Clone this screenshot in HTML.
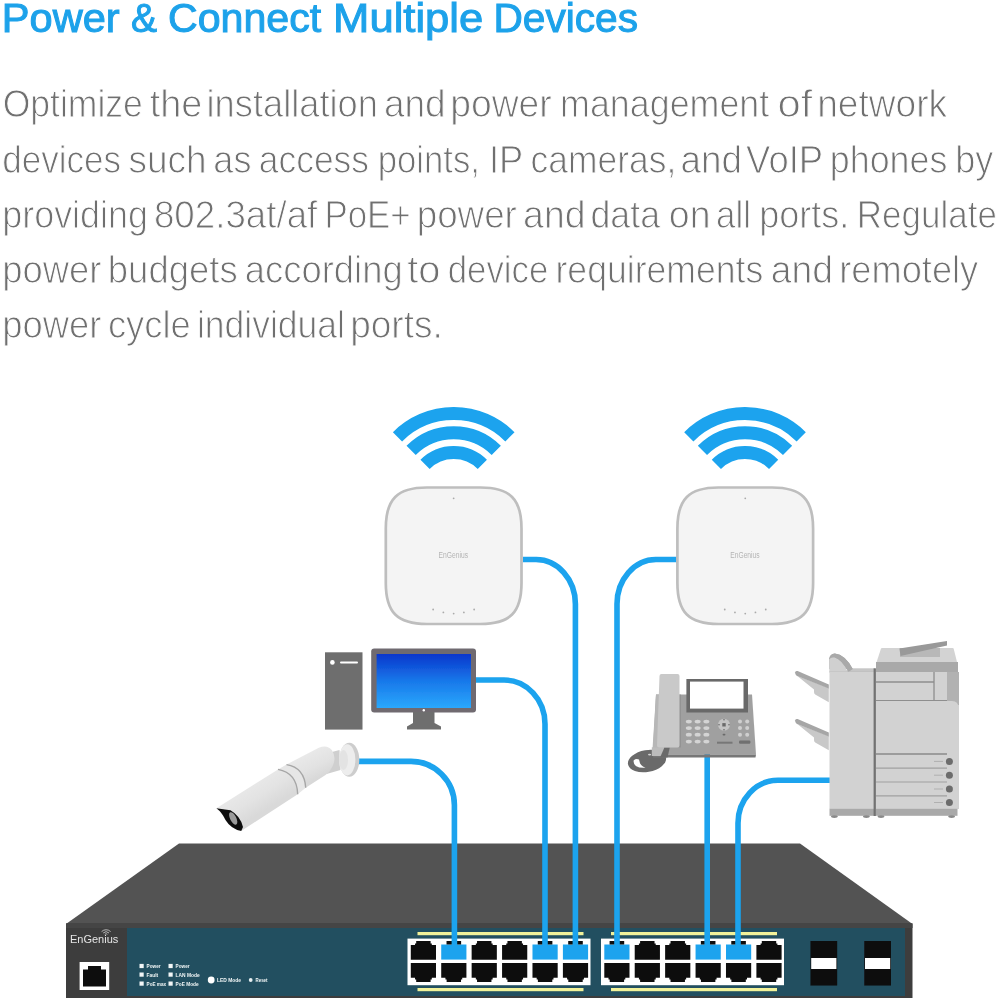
<!DOCTYPE html>
<html><head><meta charset="utf-8">
<style>
html,body{margin:0;padding:0;background:#fff;}
body{width:1000px;height:1000px;overflow:hidden;position:relative;font-family:"Liberation Sans",sans-serif;}
svg{position:absolute;left:0;top:0;display:block;}
text{font-family:"Liberation Sans",sans-serif;}
.h{font-weight:normal;font-size:39.8px;fill:#1ea2ea;stroke:#1ea2ea;stroke-width:1px;}
.b{font-size:39.2px;fill:#707070;stroke:#fff;stroke-width:1px;}
</style></head><body>
<svg width="1000" height="1000" viewBox="0 0 1000 1000">
<defs><filter id="soft" filterUnits="userSpaceOnUse" x="0" y="0" width="1000" height="1000"><feGaussianBlur stdDeviation="0.35"/></filter><filter id="soft2" filterUnits="userSpaceOnUse" x="0" y="0" width="1000" height="1000"><feGaussianBlur stdDeviation="0.45"/></filter></defs>
<g id="text" filter="url(#soft)">
<text class="h" transform="translate(1.87 32) scale(1.0436 1)">Power</text>
<text class="h" transform="translate(131.02 32) scale(0.9808 1)">&amp;</text>
<text class="h" transform="translate(167.97 32) scale(1.0338 1)">Connect</text>
<text class="h" transform="translate(333.12 32) scale(1.0947 1)">Multiple</text>
<text class="h" transform="translate(493.44 32) scale(1.0210 1)">Devices</text>
<text class="b" transform="translate(2.69 117) scale(0.9067 1)">Optimize</text>
<text class="b" transform="translate(149.73 117) scale(0.9667 1)">the</text>
<text class="b" transform="translate(206.52 117) scale(0.9257 1)">installation</text>
<text class="b" transform="translate(383.91 117) scale(0.9450 1)">and</text>
<text class="b" transform="translate(450.15 117) scale(0.9515 1)">power</text>
<text class="b" transform="translate(560.06 117) scale(0.9147 1)">management</text>
<text class="b" transform="translate(777.47 117) scale(1.0633 1)">of</text>
<text class="b" transform="translate(817.16 117) scale(0.9474 1)">network</text>
<text class="b" transform="translate(2.21 173) scale(0.8953 1)">devices</text>
<text class="b" transform="translate(128.51 173) scale(0.9436 1)">such</text>
<text class="b" transform="translate(213.36 173) scale(0.9189 1)">as</text>
<text class="b" transform="translate(258.79 173) scale(0.9034 1)">access</text>
<text class="b" transform="translate(377.74 173) scale(0.8852 1)">points,</text>
<text class="b" transform="translate(488.90 173) scale(0.9258 1)">IP</text>
<text class="b" transform="translate(530.59 173) scale(0.9039 1)">cameras,</text>
<text class="b" transform="translate(680.52 173) scale(0.9400 1)">and</text>
<text class="b" transform="translate(746.07 173) scale(0.9304 1)">VoIP</text>
<text class="b" transform="translate(829.75 173) scale(0.9153 1)">phones</text>
<text class="b" transform="translate(955.24 173) scale(0.9189 1)">by</text>
<text class="b" transform="translate(2.25 228) scale(0.9163 1)">providing</text>
<text class="b" transform="translate(153.93 228) scale(0.9372 1)">802.3at/af</text>
<text class="b" transform="translate(324.44 228) scale(0.8901 1)">PoE+</text>
<text class="b" transform="translate(416.68 228) scale(0.9388 1)">power</text>
<text class="b" transform="translate(523.09 228) scale(0.9550 1)">and</text>
<text class="b" transform="translate(590.48 228) scale(0.9122 1)">data</text>
<text class="b" transform="translate(668.79 228) scale(0.9564 1)">on</text>
<text class="b" transform="translate(716.12 228) scale(0.8912 1)">all</text>
<text class="b" transform="translate(759.24 228) scale(0.9187 1)">ports.</text>
<text class="b" transform="translate(856.83 228) scale(0.8927 1)">Regulate</text>
<text class="b" transform="translate(2.21 283) scale(0.9291 1)">power</text>
<text class="b" transform="translate(107.80 283) scale(0.9321 1)">budgets</text>
<text class="b" transform="translate(244.74 283) scale(0.9297 1)">according</text>
<text class="b" transform="translate(407.19 283) scale(1.0133 1)">to</text>
<text class="b" transform="translate(447.72 283) scale(0.8881 1)">device</text>
<text class="b" transform="translate(555.47 283) scale(0.9089 1)">requirements</text>
<text class="b" transform="translate(770.80 283) scale(0.9517 1)">and</text>
<text class="b" transform="translate(839.23 283) scale(0.9247 1)">remotely</text>
<text class="b" transform="translate(2.21 338) scale(0.9291 1)">power</text>
<text class="b" transform="translate(107.95 338) scale(0.9271 1)">cycle</text>
<text class="b" transform="translate(196.88 338) scale(0.9064 1)">individual</text>
<text class="b" transform="translate(350.16 338) scale(0.9451 1)">ports.</text>
</g>
<g id="diagram" filter="url(#soft2)">
<g id="switch">
<polygon points="179,843.6 800,843.6 912.5,924 66,924" fill="#525252"/>
<rect x="66" y="923.5" width="846.5" height="74.5" fill="#3c3c3c"/>
<rect x="66" y="923.5" width="846.5" height="4.5" fill="#444"/>
<rect x="127" y="928" width="778" height="68" fill="#235060"/>
<text x="70" y="942.8" font-size="11.4" fill="#e6e6e6" textLength="48.3" lengthAdjust="spacingAndGlyphs">EnGenius</text>
<path d="M101.6 931.6 a6.4 6.4 0 0 1 9 0 M103.2 933 a4.2 4.2 0 0 1 5.8 0 M104.8 934.3 a2 2 0 0 1 2.6 0" stroke="#d8d8d8" stroke-width="0.8" fill="none"/>
<rect x="79.6" y="962" width="29.6" height="28" fill="#fff"/>
<path d="M83 969.5 h5 v-3.5 h13 v3.5 h5 v17 h-23z" fill="#0c0c0c"/>
<rect x="139.5" y="963.9" width="4.2" height="4.2" fill="#f2f6f7"/>
<text x="146.6" y="967.9" font-family="Liberation Sans, sans-serif" font-weight="bold" font-size="5.6" fill="#f0f5f6" textLength="14" lengthAdjust="spacingAndGlyphs">Power</text>
<rect x="139.5" y="972.5" width="4.2" height="4.2" fill="#f2f6f7"/>
<text x="146.6" y="976.5" font-family="Liberation Sans, sans-serif" font-weight="bold" font-size="5.6" fill="#f0f5f6" textLength="11.5" lengthAdjust="spacingAndGlyphs">Fault</text>
<rect x="139.5" y="981.5" width="4.2" height="4.2" fill="#f2f6f7"/>
<text x="146.6" y="985.5" font-family="Liberation Sans, sans-serif" font-weight="bold" font-size="5.6" fill="#f0f5f6" textLength="19.5" lengthAdjust="spacingAndGlyphs">PoE max</text>
<rect x="168.5" y="963.9" width="4.2" height="4.2" fill="#f2f6f7"/>
<text x="175.6" y="967.9" font-family="Liberation Sans, sans-serif" font-weight="bold" font-size="5.6" fill="#f0f5f6" textLength="14" lengthAdjust="spacingAndGlyphs">Power</text>
<rect x="168.5" y="972.5" width="4.2" height="4.2" fill="#f2f6f7"/>
<text x="175.6" y="976.5" font-family="Liberation Sans, sans-serif" font-weight="bold" font-size="5.6" fill="#f0f5f6" textLength="24" lengthAdjust="spacingAndGlyphs">LAN Mode</text>
<rect x="168.5" y="981.5" width="4.2" height="4.2" fill="#f2f6f7"/>
<text x="175.6" y="985.5" font-family="Liberation Sans, sans-serif" font-weight="bold" font-size="5.6" fill="#f0f5f6" textLength="23" lengthAdjust="spacingAndGlyphs">PoE Mode</text>
<circle cx="211.2" cy="980" r="3.4" fill="#fff"/>
<text x="217" y="982" font-family="Liberation Sans, sans-serif" font-weight="bold" font-size="5.6" fill="#f0f5f6" textLength="24" lengthAdjust="spacingAndGlyphs">LED Mode</text>
<circle cx="250.7" cy="980" r="1.9" fill="#e6eef0"/>
<text x="255.5" y="982" font-family="Liberation Sans, sans-serif" font-weight="bold" font-size="5.6" fill="#f0f5f6" textLength="12" lengthAdjust="spacingAndGlyphs">Reset</text>
<rect x="417.5" y="932" width="166" height="3.2" fill="#f2f29a"/>
<rect x="417.5" y="988" width="166" height="3.2" fill="#f2f29a"/>
<rect x="407.5" y="938.6" width="183" height="46.6" fill="#fff"/>
<path d="M410.8 945 h4.2 v-1.6 h1.2 v-2.4 h14.399999999999999 v2.4 h1.2 v1.6 h4.2 v14.8 h-25.2z" fill="#0c0c0c"/>
<path d="M410.8 963 h25.2 v14.8 h-4.2 v1.6 h-1.2 v2.6 h-14.399999999999999 v-2.6 h-1.2 v-1.6 h-4.2z" fill="#0c0c0c"/>
<path d="M441.22 944.5 h25.2 v15.1 h-25.2z" fill="#1aa3ee"/>
<path d="M446.52000000000004 944.5 v-3.5 h14.6 v3.5z" fill="#0c0c0c"/>
<path d="M441.22 963 h25.2 v14.8 h-4.2 v1.6 h-1.2 v2.6 h-14.399999999999999 v-2.6 h-1.2 v-1.6 h-4.2z" fill="#0c0c0c"/>
<path d="M471.64 945 h4.2 v-1.6 h1.2 v-2.4 h14.399999999999999 v2.4 h1.2 v1.6 h4.2 v14.8 h-25.2z" fill="#0c0c0c"/>
<path d="M471.64 963 h25.2 v14.8 h-4.2 v1.6 h-1.2 v2.6 h-14.399999999999999 v-2.6 h-1.2 v-1.6 h-4.2z" fill="#0c0c0c"/>
<path d="M502.06 945 h4.2 v-1.6 h1.2 v-2.4 h14.399999999999999 v2.4 h1.2 v1.6 h4.2 v14.8 h-25.2z" fill="#0c0c0c"/>
<path d="M502.06 963 h25.2 v14.8 h-4.2 v1.6 h-1.2 v2.6 h-14.399999999999999 v-2.6 h-1.2 v-1.6 h-4.2z" fill="#0c0c0c"/>
<path d="M532.48 944.5 h25.2 v15.1 h-25.2z" fill="#1aa3ee"/>
<path d="M537.78 944.5 v-3.5 h14.6 v3.5z" fill="#0c0c0c"/>
<path d="M532.48 963 h25.2 v14.8 h-4.2 v1.6 h-1.2 v2.6 h-14.399999999999999 v-2.6 h-1.2 v-1.6 h-4.2z" fill="#0c0c0c"/>
<path d="M562.9000000000001 944.5 h25.2 v15.1 h-25.2z" fill="#1aa3ee"/>
<path d="M568.2 944.5 v-3.5 h14.6 v3.5z" fill="#0c0c0c"/>
<path d="M562.9000000000001 963 h25.2 v14.8 h-4.2 v1.6 h-1.2 v2.6 h-14.399999999999999 v-2.6 h-1.2 v-1.6 h-4.2z" fill="#0c0c0c"/>
<rect x="611" y="932" width="166" height="3.2" fill="#f2f29a"/>
<rect x="611" y="988" width="166" height="3.2" fill="#f2f29a"/>
<rect x="601" y="938.6" width="183" height="46.6" fill="#fff"/>
<path d="M604.3 944.5 h25.2 v15.1 h-25.2z" fill="#1aa3ee"/>
<path d="M609.5999999999999 944.5 v-3.5 h14.6 v3.5z" fill="#0c0c0c"/>
<path d="M604.3 963 h25.2 v14.8 h-4.2 v1.6 h-1.2 v2.6 h-14.399999999999999 v-2.6 h-1.2 v-1.6 h-4.2z" fill="#0c0c0c"/>
<path d="M634.7199999999999 945 h4.2 v-1.6 h1.2 v-2.4 h14.399999999999999 v2.4 h1.2 v1.6 h4.2 v14.8 h-25.2z" fill="#0c0c0c"/>
<path d="M634.7199999999999 963 h25.2 v14.8 h-4.2 v1.6 h-1.2 v2.6 h-14.399999999999999 v-2.6 h-1.2 v-1.6 h-4.2z" fill="#0c0c0c"/>
<path d="M665.14 945 h4.2 v-1.6 h1.2 v-2.4 h14.399999999999999 v2.4 h1.2 v1.6 h4.2 v14.8 h-25.2z" fill="#0c0c0c"/>
<path d="M665.14 963 h25.2 v14.8 h-4.2 v1.6 h-1.2 v2.6 h-14.399999999999999 v-2.6 h-1.2 v-1.6 h-4.2z" fill="#0c0c0c"/>
<path d="M695.56 944.5 h25.2 v15.1 h-25.2z" fill="#1aa3ee"/>
<path d="M700.8599999999999 944.5 v-3.5 h14.6 v3.5z" fill="#0c0c0c"/>
<path d="M695.56 963 h25.2 v14.8 h-4.2 v1.6 h-1.2 v2.6 h-14.399999999999999 v-2.6 h-1.2 v-1.6 h-4.2z" fill="#0c0c0c"/>
<path d="M725.98 944.5 h25.2 v15.1 h-25.2z" fill="#1aa3ee"/>
<path d="M731.28 944.5 v-3.5 h14.6 v3.5z" fill="#0c0c0c"/>
<path d="M725.98 963 h25.2 v14.8 h-4.2 v1.6 h-1.2 v2.6 h-14.399999999999999 v-2.6 h-1.2 v-1.6 h-4.2z" fill="#0c0c0c"/>
<path d="M756.4 945 h4.2 v-1.6 h1.2 v-2.4 h14.399999999999999 v2.4 h1.2 v1.6 h4.2 v14.8 h-25.2z" fill="#0c0c0c"/>
<path d="M756.4 963 h25.2 v14.8 h-4.2 v1.6 h-1.2 v2.6 h-14.399999999999999 v-2.6 h-1.2 v-1.6 h-4.2z" fill="#0c0c0c"/>
<rect x="810.4" y="941" width="26.8" height="44.6" fill="#111"/>
<rect x="811.1999999999999" y="958" width="25.2" height="11" fill="#fff"/>
<rect x="864.2" y="941" width="26.8" height="44.6" fill="#111"/>
<rect x="865.0" y="958" width="25.2" height="11" fill="#fff"/>
</g>
<g id="cables">
<path d="M523 559.5 H536 A39.4 44.5 0 0 1 575.4 604 V946" fill="none" stroke="#1aa3ee" stroke-width="5.6"/>
<path d="M677 559.5 H656 A39 44.5 0 0 0 617 604 V946" fill="none" stroke="#1aa3ee" stroke-width="5.6"/>
<path d="M476 680 H504 A41 44 0 0 1 545 724 V946" fill="none" stroke="#1aa3ee" stroke-width="5.6"/>
<path d="M358 761.4 H411 A43.4 43.6 0 0 1 454.4 805 V946" fill="none" stroke="#1aa3ee" stroke-width="5.6"/>
<path d="M707.2 754 V946" fill="none" stroke="#1aa3ee" stroke-width="5.6"/>
<path d="M830 780.3 H778 A40 42.7 0 0 0 738 823 V946" fill="none" stroke="#1aa3ee" stroke-width="5.6"/>
</g>
<path d="M397.49 436.79 A79.5 79.5 0 0 1 509.91 436.79" fill="none" stroke="#1aa3ee" stroke-width="13"/>
<path d="M411.13 450.43 A60.2 60.2 0 0 1 496.27 450.43" fill="none" stroke="#1aa3ee" stroke-width="13"/>
<path d="M425.06 464.36 A40.5 40.5 0 0 1 482.34 464.36" fill="none" stroke="#1aa3ee" stroke-width="13"/>
<path d="M688.79 436.79 A79.5 79.5 0 0 1 801.21 436.79" fill="none" stroke="#1aa3ee" stroke-width="13"/>
<path d="M702.43 450.43 A60.2 60.2 0 0 1 787.57 450.43" fill="none" stroke="#1aa3ee" stroke-width="13"/>
<path d="M716.36 464.36 A40.5 40.5 0 0 1 773.64 464.36" fill="none" stroke="#1aa3ee" stroke-width="13"/>
<path d="M426.80 487.5 H480.50 C510.02 487.5 521.50 498.98 521.50 528.5 V583.0 C521.50 612.52 510.02 624.0 480.50 624.0 H426.80 C397.28 624.0 385.80 612.52 385.80 583.0 V528.5 C385.80 498.98 397.28 487.5 426.80 487.5z" fill="#f4f4f4" stroke="#bebebe" stroke-width="2.7"/>
<circle cx="453.65" cy="498.3" r="0.9" fill="#aaa"/>
<circle cx="433.15" cy="609.5" r="0.9" fill="#aaa"/>
<circle cx="443.34999999999997" cy="612.4" r="0.9" fill="#aaa"/>
<circle cx="453.65" cy="613.6" r="0.9" fill="#aaa"/>
<circle cx="463.84999999999997" cy="612.4" r="0.9" fill="#aaa"/>
<circle cx="474.15" cy="609.5" r="0.9" fill="#aaa"/>
<text x="453.34999999999997" y="557.6" text-anchor="middle" font-size="8.3" fill="#b4b4b4" textLength="29.5" lengthAdjust="spacingAndGlyphs">EnGenius</text>
<path d="M718.40 487.5 H772.10 C801.62 487.5 813.10 498.98 813.10 528.5 V583.0 C813.10 612.52 801.62 624.0 772.10 624.0 H718.40 C688.88 624.0 677.40 612.52 677.40 583.0 V528.5 C677.40 498.98 688.88 487.5 718.40 487.5z" fill="#f4f4f4" stroke="#bebebe" stroke-width="2.7"/>
<circle cx="745.25" cy="498.3" r="0.9" fill="#aaa"/>
<circle cx="724.75" cy="609.5" r="0.9" fill="#aaa"/>
<circle cx="734.95" cy="612.4" r="0.9" fill="#aaa"/>
<circle cx="745.25" cy="613.6" r="0.9" fill="#aaa"/>
<circle cx="755.45" cy="612.4" r="0.9" fill="#aaa"/>
<circle cx="765.75" cy="609.5" r="0.9" fill="#aaa"/>
<text x="744.95" y="557.6" text-anchor="middle" font-size="8.3" fill="#b4b4b4" textLength="29.5" lengthAdjust="spacingAndGlyphs">EnGenius</text>
<g id="pc">
<rect x="325" y="652.3" width="37.5" height="77.3" fill="#6e6e6e"/>
<circle cx="332.4" cy="662.4" r="2.3" fill="#fff"/>
<rect x="340" y="661.4" width="18" height="2" rx="1" fill="#fff"/>
<rect x="371.2" y="648.6" width="104.8" height="64" rx="3" fill="#6f6b70"/>
<defs><linearGradient id="scr" x1="0" y1="0" x2="0" y2="1"><stop offset="0" stop-color="#0a36cc"/><stop offset="0.5" stop-color="#1878ea"/><stop offset="1" stop-color="#2aa8fc"/></linearGradient></defs>
<rect x="376.6" y="654" width="94.4" height="54" fill="url(#scr)"/>
<circle cx="423.8" cy="710.3" r="1.2" fill="#fff"/>
<path d="M413 712 h21.5 v11 l6.5 3.6 v3 h-34 v-3 l6 -3.6z" fill="#6e6e6e"/>
</g>
<g id="camera">
<defs><linearGradient id="cam" gradientUnits="userSpaceOnUse" x1="262" y1="772" x2="280" y2="801"><stop offset="0" stop-color="#eaeaea"/><stop offset="0.55" stop-color="#e3e3e3"/><stop offset="1" stop-color="#d9d9d9"/></linearGradient>
<linearGradient id="cam2" gradientUnits="userSpaceOnUse" x1="305" y1="752" x2="318" y2="778"><stop offset="0" stop-color="#eaeaea"/><stop offset="0.6" stop-color="#e2e2e2"/><stop offset="1" stop-color="#d8d8d8"/></linearGradient></defs>
<path d="M330 752.5 L339.5 750 L340.5 770 L326.5 774z" fill="#cfcfcf"/>
<ellipse cx="349.3" cy="759.8" rx="10" ry="17" fill="#cdcdcd"/>
<ellipse cx="347.2" cy="759.8" rx="8.2" ry="15.6" fill="#ededed"/>
<ellipse cx="343.5" cy="760" rx="4.5" ry="10" fill="#e3e3e3"/>
<path d="M286.5 764.6 L318.8 747.8 Q327 744.3 331.8 750 Q337 758 332.2 767 Q330 772 325.5 775 L305.7 787.8z" fill="url(#cam2)"/>
<path d="M278 769.4 L286.5 764.6 Q304.5 767.5 305.7 787.8 L297.7 794.2 Q297 773 278 769.4z" fill="#e6e6e6"/>
<path d="M216.4 808.3 L278 769.4 Q297 773 297.7 794.2 L241.2 831 Q238 816 229 810z" fill="url(#cam)"/>
<path d="M278 769.4 Q297 773 297.7 794.2" fill="none" stroke="#a6a6a6" stroke-width="1.4"/>
<path d="M286.5 764.6 Q304.5 767.5 305.7 787.8" fill="none" stroke="#a6a6a6" stroke-width="1.4"/>
<path d="M216.4 808.3 L230.5 810.2 Q240.5 816 243 827 L241.2 831 Q231 829 225.5 820 Q222 812.5 216.4 808.3z" fill="#0e0e0e"/>
<ellipse cx="233.2" cy="818.4" rx="3.1" ry="6.8" transform="rotate(-27 233.2 818.4)" fill="#9a9a9a"/>
</g>
<g id="phone">
<ellipse cx="647" cy="761" rx="19.3" ry="11" transform="rotate(-10 647 761)" fill="#6b6b6b"/>
<path d="M633.6 760.5 Q633 768.5 645.5 767.8 Q639.5 765.5 639 759.5 Q636 758.2 633.6 760.5z" fill="#fff"/>
<ellipse cx="649.6" cy="754.6" rx="1.6" ry="0.9" fill="#cfcfcf"/>
<path d="M656 694.4 H752 L756 754.4 H652.8z" fill="#a0a0a0"/>
<path d="M652.8 754.4 H756 L755.5 757.6 H653.3z" fill="#777"/>
<path d="M656 694.4 H661 L658 747.5 H652.6z" fill="#b7b7b7"/>
<rect x="651.8" y="747.2" width="12.2" height="8.8" fill="#bcbcbc"/>
<rect x="679.3" y="694.4" width="1.3" height="53" fill="#8c8c8c"/>
<path d="M664.4 747.5 H669.8 L667.5 757.6 H660z" fill="#6b6b6b"/>
<path d="M661.5 674 H677.5 a2 2 0 0 1 2 2 V745.5 a2 2 0 0 1 -2 2 H659 a2 2 0 0 1 -2 -2 L659.5 676 a2 2 0 0 1 2 -2z" fill="#c9c9c9"/>
<rect x="686.4" y="679" width="61.6" height="33.5" fill="#696969"/>
<rect x="690" y="681.6" width="53.5" height="27" fill="#fff"/>
<ellipse cx="688.8" cy="721.6" rx="3" ry="1.9" fill="#d4d4d4"/>
<ellipse cx="688.8" cy="728.1" rx="3" ry="1.9" fill="#d4d4d4"/>
<ellipse cx="688.8" cy="734.7" rx="3" ry="1.9" fill="#d4d4d4"/>
<ellipse cx="688.8" cy="741.6" rx="3" ry="1.9" fill="#d4d4d4"/>
<ellipse cx="697.6" cy="721.6" rx="3" ry="1.9" fill="#d4d4d4"/>
<ellipse cx="697.6" cy="728.1" rx="3" ry="1.9" fill="#d4d4d4"/>
<ellipse cx="697.6" cy="734.7" rx="3" ry="1.9" fill="#d4d4d4"/>
<ellipse cx="697.6" cy="741.6" rx="3" ry="1.9" fill="#d4d4d4"/>
<ellipse cx="706.4" cy="721.6" rx="3" ry="1.9" fill="#d4d4d4"/>
<ellipse cx="706.4" cy="728.1" rx="3" ry="1.9" fill="#d4d4d4"/>
<ellipse cx="706.4" cy="734.7" rx="3" ry="1.9" fill="#d4d4d4"/>
<ellipse cx="706.4" cy="741.6" rx="3" ry="1.9" fill="#d4d4d4"/>
<circle cx="724" cy="724.8" r="6" fill="#c4c4c4"/>
<rect x="722.3" y="723.1" width="3.4" height="3.4" fill="#6a6a6a"/>
<circle cx="724" cy="719.8" r="0.8" fill="#6a6a6a"/><circle cx="724" cy="729.8" r="0.8" fill="#6a6a6a"/><circle cx="719" cy="724.8" r="0.8" fill="#6a6a6a"/><circle cx="729" cy="724.8" r="0.8" fill="#6a6a6a"/>
<rect x="722.6" y="733.8" width="2.8" height="1.8" rx="0.8" fill="#6a6a6a"/>
<rect x="717" y="741.7" width="15.5" height="2" fill="#777"/>
<circle cx="740" cy="721.6" r="2" fill="#cfcfcf"/>
<circle cx="740" cy="728.1" r="2" fill="#cfcfcf"/>
<circle cx="740" cy="734.7" r="2" fill="#cfcfcf"/>
<circle cx="747.2" cy="721.6" r="2" fill="#cfcfcf"/>
<circle cx="747.2" cy="728.1" r="2" fill="#cfcfcf"/>
<circle cx="747.2" cy="734.7" r="2" fill="#cfcfcf"/>
<rect x="739" y="740.4" width="11.4" height="3.4" rx="1.2" fill="#6f6f6f"/>
</g>
<g id="printer">
<path d="M797 675.8 L828.8 688 V702.3 L815.2 694.6 Q814 693.6 814 692 V689.6z" fill="#c8c8c8"/>
<path d="M795.2 672.2 Q795.6 670.5 797.6 671 L828.8 684.4 V688.4 L796.6 675.8 Q794.8 674.6 795.2 672.2z" fill="#a6a6a6"/>
<path d="M797 723.8 L828.8 736 V750.3 L815.2 742.6 Q814 741.6 814 740 V737.6z" fill="#c8c8c8"/>
<path d="M795.2 720.2 Q795.6 718.5 797.6 719 L828.8 732.4 V736.4 L796.6 723.8 Q794.8 722.6 795.2 720.2z" fill="#a6a6a6"/>
<path d="M829.3 669 V658.5 Q830 653.8 834.8 653.5 Q845 654.5 852.8 669z" fill="#a9a9a9"/>
<path d="M829.3 672 V659.5 Q830.5 656.5 834.5 657.3 Q842.5 660 847.8 672z" fill="#d0d0d0"/>
<rect x="847" y="668.3" width="27.5" height="4" fill="#c6c6c6"/>
<path d="M829.3 669 V658.5 Q830 653.8 834.8 653.5 Q845 654.5 852.8 669 L848.5 672 Q842.5 660 834.5 657.3 Q830.5 656.5 829.3 659.5z" fill="#a9a9a9"/>
<rect x="829.3" y="671.6" width="45" height="0.9" fill="#b8b8b8"/>
<rect x="829.5" y="672" width="45" height="137" fill="#d2d2d2"/>
<rect x="829.5" y="808.8" width="45" height="7" fill="#a9a9a9"/>
<path d="M876.6 662 L881 648.6 Q881.3 648 882 648 H952.5 Q953.3 648 953.6 648.6 L957 662z" fill="#d3d3d3"/>
<rect x="900" y="648" width="40" height="9" fill="#b8b8b8"/>
<path d="M899.4 648.5 L947 641 V645.5 L900.5 656z" fill="#999"/>
<rect x="876" y="662" width="82" height="10.5" fill="#a9a9a9"/>
<rect x="876" y="672" width="83" height="137" fill="#d2d2d2"/>
<rect x="947" y="672" width="12" height="33" fill="#b2b2b2"/>
<path d="M876 682 H934 M934 672 V700.4 M876 700.6 H947" stroke="#8e8e8e" stroke-width="1.3" fill="none"/>
<path d="M876 701 H952 Q958.5 701 958.5 708 V753 H876z" fill="#d2d2d2"/>
<path d="M876 754 H947" stroke="#8a8a8a" stroke-width="1.4"/>
<path d="M876 768.2 H947" stroke="#a0a0a0" stroke-width="1.2"/>
<path d="M876 782 H947" stroke="#a0a0a0" stroke-width="1.2"/>
<path d="M876 795.8 H947" stroke="#a0a0a0" stroke-width="1.2"/>
<circle cx="949.4" cy="761.4" r="3.5" fill="#6c6c6c"/>
<rect x="934" y="760.9" width="9" height="1" fill="#b0b0b0"/>
<circle cx="949.4" cy="775.2" r="3.5" fill="#6c6c6c"/>
<rect x="934" y="774.7" width="9" height="1" fill="#b0b0b0"/>
<circle cx="949.4" cy="789" r="3.5" fill="#6c6c6c"/>
<rect x="934" y="788.5" width="9" height="1" fill="#b0b0b0"/>
<circle cx="949.4" cy="802.5" r="3.5" fill="#6c6c6c"/>
<rect x="934" y="802.0" width="9" height="1" fill="#b0b0b0"/>
<rect x="876" y="808.8" width="81.5" height="7" fill="#a9a9a9"/>
<rect x="873.6" y="668.3" width="2.3" height="147.7" fill="#727272"/>
<ellipse cx="834.4" cy="816.6" rx="3.4" ry="1.4" fill="#8a8a8a"/>
<ellipse cx="866.4" cy="816.6" rx="3.4" ry="1.4" fill="#8a8a8a"/>
<ellipse cx="881" cy="816.6" rx="3.4" ry="1.4" fill="#8a8a8a"/>
<ellipse cx="951.6" cy="816.6" rx="3.4" ry="1.4" fill="#8a8a8a"/>
</g>
</g>
</svg>
</body></html>
